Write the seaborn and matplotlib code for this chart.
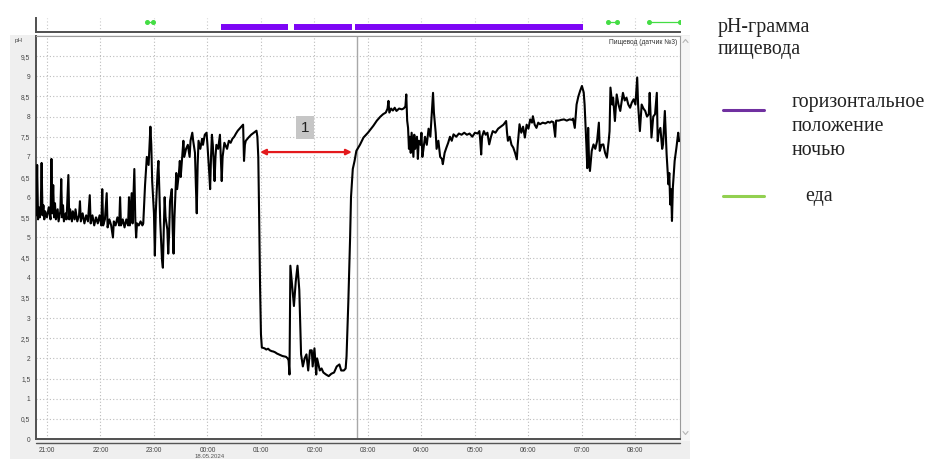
import matplotlib
matplotlib.use("Agg")
import matplotlib.pyplot as plt
from matplotlib.patches import Rectangle
from matplotlib.lines import Line2D
from matplotlib.ticker import MultipleLocator
import pandas as pd
import seaborn as sns

# ---- data: time in minutes after 21:00, oesophageal pH ----
hour_ticks = [0, 60, 120, 180, 240, 300, 360, 420, 480, 540, 600, 660]
hour_labels = ["21:00", "22:00", "23:00", "00:00", "01:00", "02:00",
               "03:00", "04:00", "05:00", "06:00", "07:00", "08:00"]
ph_ticks = [0, 0.5, 1, 1.5, 2, 2.5, 3, 3.5, 4, 4.5, 5, 5.5, 6, 6.5, 7,
            7.5, 8, 8.5, 9, 9.5]
ph_labels = ["0", "0,5", "1", "1,5", "2", "2,5", "3", "3,5", "4", "4,5",
             "5", "5,5", "6", "6,5", "7", "7,5", "8", "8,5", "9", "9,5"]

evening_min = [-12, -11, -10, -9, -8, -7, -6, -5, -4, -3, -2, 0, 2, 4, 5, 6, 7, 8, 9, 10,
               12, 13, 15, 16, 17, 18, 19, 21, 22, 24, 25, 26, 28, 29, 31, 32, 34, 36, 37, 38,
               40, 42, 44, 46, 48, 49, 51, 53, 55, 57, 59, 61, 62, 63, 65, 67, 68, 70, 72, 74,
               75, 77, 79, 81, 82, 83, 85, 87, 89, 91, 92, 93, 95, 96, 98, 99, 100, 101, 103, 105,
               107, 108, 110, 112, 114, 116, 117, 118, 120, 121, 122, 124, 125, 126, 127, 129, 130, 131, 132, 133,
               135, 136, 137, 138, 140, 141, 142, 143, 145, 146, 148, 149, 150, 152, 153, 154, 156, 158, 160, 161,
               163, 164, 166, 167, 168, 169, 170, 172, 174, 175, 177, 179, 180, 182, 183, 184, 185, 186, 188, 189,
               190, 192, 194, 195, 196, 197, 199, 200, 202, 204, 206, 208, 210, 212, 214, 216, 218, 220, 221, 222,
               223, 226, 229, 232, 235, 236]
evening_ph = [5.55, 6.8, 5.45, 5.75, 5.5, 5.7, 6.85, 5.55, 5.8, 5.45, 5.65, 5.5, 5.75, 5.45, 6.95, 5.6, 6.3, 5.5, 5.85, 5.45,
              5.7, 5.4, 5.65, 6.45, 5.5, 5.8, 5.4, 5.6, 5.45, 6.55, 5.45, 5.7, 5.4, 5.65, 5.45, 5.7, 5.4, 5.55, 5.9, 5.4,
              5.6, 5.35, 5.55, 5.4, 6.05, 5.35, 5.55, 5.3, 5.5, 5.35, 5.55, 5.3, 6.2, 5.3, 5.45, 6.1, 5.25, 5.45, 5.3, 5.0,
              5.4, 5.3, 5.5, 5.3, 6.0, 5.3, 5.45, 5.25, 5.45, 5.3, 6.0, 5.3, 6.1, 5.35, 6.7, 5.5, 5.0, 5.35, 5.3, 5.4,
              5.3, 5.35, 6.3, 7.0, 6.8, 7.75, 7.3, 6.4, 5.6, 4.55, 5.6, 6.6, 6.9, 6.2, 5.4, 4.45, 4.25, 5.2, 6.0, 5.5,
              5.2, 4.6, 5.1, 5.9, 6.2, 5.2, 4.6, 5.5, 6.6, 6.2, 6.6, 6.9, 6.5, 7.1, 7.4, 7.0, 7.2, 7.3, 7.0, 7.4,
              7.6, 7.4, 7.1, 6.3, 5.6, 6.8, 7.4, 7.2, 7.45, 7.3, 7.55, 7.6, 7.3, 6.6, 6.2, 7.0, 7.55, 7.3, 6.4, 7.0,
              7.3, 7.2, 7.55, 7.0, 6.4, 7.0, 7.35, 7.3, 7.2, 7.4, 7.35, 7.45, 7.5, 7.58, 7.65, 7.7, 7.75, 7.8, 6.9, 7.3,
              7.4, 7.48, 7.55, 7.6, 7.65, 7.5]

reflux_min = [237, 238, 239, 240, 241, 244, 246, 248, 250, 252, 254, 256, 258, 260, 262, 264, 266, 268, 270, 271,
              272, 273, 275, 277, 279, 281, 283, 285, 287, 289, 291, 293, 295, 297, 298, 300, 302, 303, 305, 306,
              308, 310, 313, 316, 319, 322, 325, 328, 330, 333, 335, 336, 338, 340]
reflux_ph = [7.0, 5.5, 3.8, 2.6, 2.27, 2.25, 2.22, 2.24, 2.2, 2.18, 2.17, 2.15, 2.12, 2.1, 2.08, 2.06, 2.05, 2.04, 2.0, 1.95,
             1.6, 4.3, 3.8, 3.3, 3.9, 4.3, 3.7, 2.1, 1.8, 2.0, 2.1, 1.7, 2.2, 2.2, 1.8, 2.25, 1.6, 2.0, 1.8, 1.7,
             1.75, 1.65, 1.6, 1.56, 1.62, 1.65, 1.8, 1.85, 1.7, 1.7, 1.75, 2.05, 3.4, 5.0]

night_min = [341, 343, 345, 347, 351, 355, 360, 366, 370, 374, 377, 380, 382, 383, 384, 386, 388, 390, 392, 395,
             398, 400, 402, 403, 404, 405, 406, 407, 408, 409, 410, 411, 412, 413, 415, 416, 417, 419, 420, 421,
             422, 424, 426, 428, 430, 432, 433, 434, 436, 437, 439, 441, 443, 444, 446, 448, 450, 452, 454, 456,
             459, 462, 465, 468, 471, 474, 477, 480, 483, 485, 486, 487, 488, 490, 492, 494, 496, 498, 500, 503,
             506, 509, 512, 515, 516, 517, 519, 521, 523, 525, 527, 528, 530, 532, 534, 536, 538, 540, 542, 544,
             545, 547, 549, 551, 553, 556, 559, 562, 564, 566, 568, 570, 571, 574, 577, 580, 583, 586, 589, 590,
             592, 594, 596, 598, 600, 602, 603, 604]
night_ph = [6.0, 6.7, 6.9, 7.15, 7.3, 7.48, 7.6, 7.77, 7.9, 8.0, 8.06, 8.1, 8.2, 8.39, 8.1, 8.2, 8.15, 8.22, 8.14, 8.2,
            8.18, 8.2, 8.25, 8.55, 7.9, 7.72, 7.2, 7.5, 7.1, 7.6, 7.3, 7.0, 7.55, 7.2, 7.5, 6.95, 7.4, 7.3, 7.6, 7.0,
            7.15, 7.5, 7.3, 7.7, 7.5, 8.2, 8.59, 8.1, 7.6, 7.2, 7.4, 7.0, 6.95, 6.82, 7.1, 7.23, 7.35, 7.5, 7.4, 7.56,
            7.5, 7.58, 7.55, 7.6, 7.55, 7.58, 7.5, 7.6, 7.58, 7.64, 7.4, 7.06, 7.5, 7.64, 7.55, 7.6, 7.31, 7.5, 7.64, 7.6,
            7.7, 7.75, 7.8, 7.89, 7.6, 7.4, 7.5, 7.3, 7.23, 7.1, 6.94, 7.3, 7.81, 7.6, 7.75, 7.48, 7.8, 7.7, 7.93, 7.85,
            8.01, 7.8, 7.72, 7.85, 7.81, 7.85, 7.83, 7.87, 7.85, 7.88, 7.86, 7.5, 7.9, 7.9, 7.92, 7.93, 7.9, 7.93, 7.92, 7.95,
            7.72, 8.3, 8.5, 8.64, 8.76, 8.6, 8.3, 7.8]

morning_min = [605, 606, 607, 608, 609, 611, 613, 615, 617, 619, 620, 622, 624, 626, 628, 630, 631, 632, 634, 635,
               637, 639, 641, 643, 646, 648, 650, 652, 654, 656, 658, 660, 662, 663, 665, 667, 669, 671, 673, 675,
               676, 678, 680, 682, 684, 685, 686, 688, 690, 691, 693, 695, 697, 698, 699, 700, 701, 702, 704, 706,
               708, 709]
morning_ph = [7.3, 6.72, 7.72, 6.9, 6.65, 7.15, 7.31, 7.2, 7.39, 7.85, 7.15, 7.3, 7.31, 7.1, 6.98, 7.39, 7.64, 8.72, 8.3, 8.47,
              7.89, 8.55, 8.3, 8.14, 8.59, 8.4, 8.47, 8.3, 8.22, 8.35, 8.43, 8.3, 8.97, 8.3, 7.64, 8.3, 8.2, 8.14, 8.0, 8.06,
              8.59, 7.48, 8.0, 8.06, 8.59, 7.39, 7.6, 7.72, 7.2, 7.31, 8.14, 7.06, 6.32, 6.6, 5.82, 6.2, 5.41, 6.24, 6.9, 7.23,
              7.6, 7.39]

# event channel: supine periods (night) and meals
supine_start = [195, 277, 345]
supine_end = [270, 342, 601]
meal_start = [112, 629, 675]
meal_end = [119, 639, 710]

# reflux episode 1 and the marker line
episode_start, episode_end, episode_ph = 239, 342, 7.12
episode_label = "1"
marker_min = 347.7

trace = pd.DataFrame({
    "minute": evening_min + reflux_min + night_min + morning_min,
    "ph": evening_ph + reflux_ph + night_ph + morning_ph,
})

sns.set_theme(style="white")
plt.rcParams["font.family"] = ["Liberation Sans", "DejaVu Sans"]

W, H = 928, 459
fig = plt.figure(figsize=(W / 100, H / 100), dpi=100)
fig.patch.set_facecolor("white")


def fx(px):
    return px / W


def fy(py):
    return 1 - py / H


# software window background and scroll bar
fig.patches.append(Rectangle((fx(10), 0), fx(690) - fx(10), fy(35), transform=fig.transFigure,
                             facecolor="#efefef", edgecolor="none", zorder=-10))
fig.patches.append(Rectangle((fx(681), fy(441)), fx(690) - fx(681), (441 - 36) / H,
                             transform=fig.transFigure, facecolor="#f6f6f6", edgecolor="none", zorder=-9))
for cy, d in ((41, 1), (433, -1)):
    fig.lines.append(Line2D([fx(683), fx(685.5), fx(688)], [fy(cy + 1.5 * d), fy(cy - 1.5 * d), fy(cy + 1.5 * d)],
                            transform=fig.transFigure, color="#b5b5b5", lw=0.8, zorder=-8))

xmin, xmax = -12.3, 710

# ---- main pH axes ----
ax = fig.add_axes([fx(36), fy(439), fx(680) - fx(36), (439 - 36) / H])
ax.set_facecolor("white")
sns.lineplot(data=trace, x="minute", y="ph", ax=ax, color="black", lw=1.5,
             estimator=None, sort=False, zorder=3)
ax.set_xlim(xmin, xmax)
ax.set_ylim(0, 10)
ax.set_xlabel("")
ax.set_ylabel("")
ax.set_xticks(hour_ticks)
ax.set_xticklabels(hour_labels)
ax.set_yticks(ph_ticks)
ax.set_yticklabels(ph_labels)
ax.xaxis.set_minor_locator(MultipleLocator(12))
ax.grid(True, which="major", linestyle=(0, (1, 2)), color="#bcbcbc", lw=0.8)
ax.tick_params(axis="y", length=3, width=0.6, pad=1, labelsize=4.8, color="#666", labelcolor="#444")
ax.tick_params(axis="x", which="both", length=3, width=0.6, pad=2.5, labelsize=4.8,
               color="#666", labelcolor="#444", direction="out")
for side in ("left", "bottom"):
    ax.spines[side].set_color("#505050")
    ax.spines[side].set_linewidth(1.4)
for side in ("top", "right"):
    ax.spines[side].set_color("#9a9a9a")
    ax.spines[side].set_linewidth(0.8)
ax.plot([0, 1], [-0.0105, -0.0105], transform=ax.transAxes, clip_on=False, color="#555", lw=1.0)

ax.axvline(marker_min, color="#a8a8a8", lw=1.0, zorder=2)
ax.annotate("", xy=(episode_start, episode_ph), xytext=(episode_end, episode_ph),
            arrowprops=dict(arrowstyle="<|-|>", color="#e3191c", lw=1.6, mutation_scale=8,
                            shrinkA=0, shrinkB=0), zorder=4)
ax.text(289.5, 7.72, episode_label, ha="center", va="center", fontsize=11, color="#222",
        bbox=dict(boxstyle="square,pad=0.3", facecolor="#c6c6c6", edgecolor="none"), zorder=4)
ax.text(0.995, 0.983, "Пищевод (датчик №3)", transform=ax.transAxes, ha="right", va="center",
        fontsize=4.8, color="#333")

fig.text(fx(19), fy(40.5), "pH", fontsize=4.5, ha="center", va="center", color="#444")
fig.text(fx(210), fy(458.6), "18.05.2024", fontsize=4.3, ha="center", va="bottom", color="#555")

# ---- event channel above the trace ----
axs = fig.add_axes([fx(36), fy(32), fx(680) - fx(36), 14 / H])
axs.set_facecolor("white")
axs.set_xlim(xmin, xmax)
axs.set_ylim(0, 1)
axs.set_xticks(hour_ticks)
axs.set_xticklabels([])
axs.set_yticks([])
axs.xaxis.set_minor_locator(MultipleLocator(12))
axs.grid(True, axis="x", which="major", linestyle=(0, (1, 2)), color="#c8c8c8", lw=0.8)
axs.tick_params(axis="x", which="both", length=2, width=0.6, color="#666", direction="out")
for side in ("top", "right"):
    axs.spines[side].set_visible(False)
for side in ("left", "bottom"):
    axs.spines[side].set_color("#505050")
    axs.spines[side].set_linewidth(1.4)
axs.hlines([0.36] * len(supine_start), supine_start, supine_end, colors="#7d05f5", lw=4.3)
for s, e in zip(meal_start, meal_end):
    axs.plot([s, e], [0.74, 0.74], color="#44dd44", lw=0.9, marker="o", ms=2.6)

# ---- legend on the right ----
serif = ["Liberation Serif", "DejaVu Serif"]
fs_leg = 14.3
fig.text(fx(718), fy(32), "pH-грамма", family=serif, fontsize=fs_leg, va="baseline", color="#222")
fig.text(fx(718), fy(54), "пищевода", family=serif, fontsize=fs_leg, va="baseline", color="#222")
fig.lines.append(Line2D([fx(723), fx(764)], [fy(110), fy(110)], transform=fig.transFigure,
                        color="#7030a0", lw=2.2))
for text, base in (("горизонтальное", 107), ("положение", 131), ("ночью", 155)):
    fig.text(fx(792), fy(base), text, family=serif, fontsize=fs_leg, va="baseline", color="#222")
fig.lines.append(Line2D([fx(723), fx(764)], [fy(196), fy(196)], transform=fig.transFigure,
                        color="#92d050", lw=2.2))
fig.text(fx(805), fy(201), "еда", family=serif, fontsize=fs_leg, va="baseline", color="#222")

fig.savefig("out.png", dpi=100)
